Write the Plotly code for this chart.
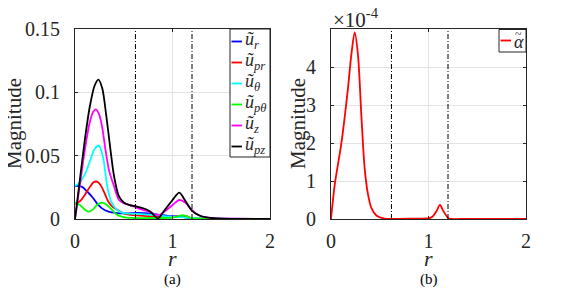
import plotly.graph_objects as go

# ---------------- data ----------------
# (a) left panel
r_ur = [0, 0.04, 0.08, 0.12, 0.175, 0.23, 0.277, 0.345, 0.4, 0.46, 0.55, 0.65, 0.75, 0.85, 0.95, 1.05, 1.15, 1.22, 1.4, 2.0]
v_ur = [0.026, 0.0262, 0.025, 0.022, 0.0176, 0.012, 0.0084, 0.0058, 0.005, 0.0045, 0.0045, 0.0048, 0.0045, 0.0035, 0.0025, 0.002, 0.001, 0.0003, 0.0002, 0]

r_upr = [0, 0.05, 0.1, 0.15, 0.19, 0.225, 0.26, 0.3, 0.34, 0.38, 0.43, 0.5, 0.6, 0.7, 0.8, 0.9, 1.0, 1.05, 1.1, 1.15, 1.2, 1.3, 2.0]
v_upr = [0.012, 0.014, 0.019, 0.025, 0.029, 0.0295, 0.027, 0.021, 0.014, 0.01, 0.0075, 0.0045, 0.003, 0.0025, 0.002, 0.0015, 0.0015, 0.002, 0.0025, 0.002, 0.0005, 0.0002, 0]

r_uth = [0, 0.05, 0.1, 0.15, 0.2, 0.245, 0.29, 0.33, 0.37, 0.42, 0.48, 0.55, 0.65, 0.75, 0.85, 0.95, 1.05, 1.1, 1.2, 1.3, 1.5, 2.0]
v_uth = [0.026, 0.029, 0.035, 0.045, 0.055, 0.058, 0.048, 0.026, 0.014, 0.008, 0.005, 0.0042, 0.004, 0.0035, 0.003, 0.002, 0.0015, 0.0015, 0.0008, 0.0003, 0.0001, 0]

r_upth = [0, 0.05, 0.1, 0.14, 0.18, 0.23, 0.277, 0.32, 0.37, 0.42, 0.47, 0.53, 0.6, 0.8, 1.0, 1.05, 1.1, 1.15, 1.2, 1.3, 2.0]
v_upth = [0.0129, 0.011, 0.0075, 0.0058, 0.0072, 0.0115, 0.0129, 0.0115, 0.008, 0.004, 0.002, 0.001, 0.0008, 0.0008, 0.001, 0.002, 0.003, 0.002, 0.0005, 0.0002, 0]

r_uz = [0, 0.05, 0.1, 0.15, 0.19, 0.215, 0.25, 0.28, 0.31, 0.35, 0.4, 0.45, 0.5, 0.56, 0.63, 0.7, 0.77, 0.85, 0.92, 1.0, 1.07, 1.13, 1.2, 1.27, 1.35, 1.45, 1.6, 2.0]
v_uz = [0, 0.027, 0.054, 0.076, 0.085, 0.0865, 0.082, 0.072, 0.056, 0.038, 0.026, 0.015, 0.0125, 0.011, 0.009, 0.007, 0.0055, 0.003, 0.006, 0.011, 0.015, 0.013, 0.007, 0.003, 0.0012, 0.0005, 0.0002, 0]

r_upz = [0, 0.05, 0.1, 0.15, 0.2, 0.24, 0.28, 0.32, 0.36, 0.4, 0.45, 0.5, 0.56, 0.63, 0.7, 0.77, 0.85, 0.92, 1.0, 1.07, 1.13, 1.2, 1.27, 1.35, 1.45, 1.6, 2.0]
v_upz = [0, 0.031, 0.062, 0.088, 0.105, 0.110, 0.103, 0.082, 0.057, 0.034, 0.018, 0.013, 0.011, 0.0099, 0.0085, 0.006, 0.0005, 0.007, 0.015, 0.0208, 0.0145, 0.0065, 0.003, 0.0012, 0.0004, 0.0001, 0]

# (b) right panel
r_alpha = [0, 0.038, 0.106, 0.174, 0.208, 0.243, 0.277, 0.311, 0.345, 0.38, 0.414, 0.465, 0.55, 0.7, 0.9, 1.0, 1.04, 1.08, 1.118, 1.15, 1.19, 1.21, 1.4, 2.0]
v_alpha_e4 = [0, 0.9, 1.99, 3.44, 4.31, 4.91, 4.31, 2.74, 1.34, 0.64, 0.29, 0.09, 0.01, 0.005, 0.01, 0.02, 0.06, 0.2, 0.37, 0.22, 0.06, 0.01, 0.005, 0]

# region boundaries (dash-dot lines)
r_bounds = [0.62, 1.2]

left_xticks = [0, 1, 2]
left_yticks = [0, 0.05, 0.1, 0.15]
left_yticktext = ["0", "0.05", "0.1", "0.15"]
right_yticks_e4 = [0, 1, 2, 3, 4]

left_series = [
    ("<i>ũ</i><sub><i>r</i></sub>", r_ur, v_ur, "#0000ff"),
    ("<i>ũ</i><sub><i>pr</i></sub>", r_upr, v_upr, "#ff0000"),
    ("<i>ũ</i><sub><i>θ</i></sub>", r_uth, v_uth, "#00ffff"),
    ("<i>ũ</i><sub><i>pθ</i></sub>", r_upth, v_upth, "#00ff00"),
    ("<i>ũ</i><sub><i>z</i></sub>", r_uz, v_uz, "#ff00ff"),
    ("<i>ũ</i><sub><i>pz</i></sub>", r_upz, v_upz, "#000000"),
]

# the page body has an 8px margin: the figure is offset by it inside the window
OFF = 8
W, H = 581 - OFF, 288 - OFF
FONT = "Liberation Serif"
AX = "#262626"

def px(x):
    return (x - OFF) / W

def py(y):
    return 1 - (y - OFF) / H

fig = go.Figure()

for name, rr, vv, col in left_series:
    fig.add_trace(go.Scatter(x=rr, y=vv, mode="lines", name=name,
                             line=dict(color=col, width=1.8, shape="spline", smoothing=0.8),
                             xaxis="x", yaxis="y", showlegend=False))

v_alpha = [v * 1e-4 for v in v_alpha_e4]
fig.add_trace(go.Scatter(x=r_alpha, y=v_alpha, mode="lines",
                         line=dict(color="#ff0000", width=1.8, shape="spline", smoothing=0.8),
                         xaxis="x2", yaxis="y2", showlegend=False))

for rb in r_bounds:
    fig.add_trace(go.Scatter(x=[rb, rb], y=[0, 0.15], mode="lines",
                             line=dict(color="black", width=1, dash="5px,2px,1px,2px"),
                             xaxis="x", yaxis="y", showlegend=False))
    fig.add_trace(go.Scatter(x=[rb, rb], y=[0, 5e-4], mode="lines",
                             line=dict(color="black", width=1, dash="5px,2px,1px,2px"),
                             xaxis="x2", yaxis="y2", showlegend=False))

ydom = [py(219), py(29)]
common = dict(showline=True, linecolor=AX, linewidth=1, mirror="ticks", ticks="inside",
              ticklen=3, tickcolor=AX, showgrid=True, gridcolor="#e3e3e3", gridwidth=1,
              zeroline=False, automargin=False,
              tickfont=dict(family=FONT, size=20, color=AX))

fig.update_layout(
    template="none",
    width=W, height=H, margin=dict(l=0, r=0, t=0, b=0, pad=0),
    paper_bgcolor="white", plot_bgcolor="white",
    xaxis=dict(domain=[px(75), px(270)], range=[0, 2], tickvals=left_xticks,
               anchor="y", ticklabelstandoff=4, **common),
    yaxis=dict(domain=ydom, range=[0, 0.15], tickvals=left_yticks, ticktext=left_yticktext,
               anchor="x", ticklabelstandoff=10, **common),
    xaxis2=dict(domain=[px(331), px(526)], range=[0, 2], tickvals=left_xticks,
                anchor="y2", ticklabelstandoff=4, **common),
    yaxis2=dict(domain=ydom, range=[0, 5e-4], tickvals=[v * 1e-4 for v in right_yticks_e4],
                ticktext=[str(v) for v in right_yticks_e4],
                anchor="x2", ticklabelstandoff=10, **common),
)

# left legend (box first, then its entries on top)
fig.add_shape(type="rect", xref="paper", yref="paper", x0=px(230), x1=px(270),
              y0=py(157), y1=py(29), line=dict(color=AX, width=1), fillcolor="white",
              layer="above")
for i, (name, rr, vv, col) in enumerate(left_series):
    yc = 41.5 + 21 * i
    fig.add_shape(type="line", xref="paper", yref="paper", x0=px(231.5), x1=px(242),
                  y0=py(yc), y1=py(yc), line=dict(color=col, width=1.8), layer="above")
    fig.add_annotation(xref="paper", yref="paper", x=px(242.5), y=py(yc - 1),
                       text=name, showarrow=False, xanchor="left", yanchor="middle",
                       font=dict(family=FONT, size=18, color=AX))

# right legend
fig.add_shape(type="rect", xref="paper", yref="paper", x0=px(499), x1=px(526),
              y0=py(52), y1=py(29.5), line=dict(color=AX, width=1), fillcolor="white",
              layer="above")
fig.add_shape(type="line", xref="paper", yref="paper", x0=px(500.5), x1=px(511),
              y0=py(40.5), y1=py(40.5), line=dict(color="#ff0000", width=1.8), layer="above")
fig.add_annotation(xref="paper", yref="paper", x=px(512), y=py(41.5),
                   text="<i>α</i>", showarrow=False, xanchor="left", yanchor="middle",
                   font=dict(family=FONT, size=18, color=AX))
fig.add_annotation(xref="paper", yref="paper", x=px(513), y=py(33.5),
                   text="~", showarrow=False, xanchor="left", yanchor="middle",
                   font=dict(family=FONT, size=12, color=AX))

# axis labels
for xc in (14, 298):
    fig.add_annotation(xref="paper", yref="paper", x=px(xc), y=py(124),
                       text="Magnitude", textangle=-90, showarrow=False,
                       xanchor="center", yanchor="middle",
                       font=dict(family=FONT, size=21, color=AX))
for xc in (172, 428):
    fig.add_annotation(xref="paper", yref="paper", x=px(xc), y=py(258),
                       text="<i>r</i>", showarrow=False, xanchor="center", yanchor="middle",
                       font=dict(family=FONT, size=22, color=AX))
for xc, lab in ((172, "(a)"), (429, "(b)")):
    fig.add_annotation(xref="paper", yref="paper", x=px(xc), y=py(279),
                       text=lab, showarrow=False, xanchor="center", yanchor="middle",
                       font=dict(family=FONT, size=15, color="black"))

# exponent label
fig.add_annotation(xref="paper", yref="paper", x=px(331), y=py(3),
                   text="×10<sup>-4</sup>", showarrow=False, xanchor="left", yanchor="top",
                   font=dict(family=FONT, size=21, color=AX))

fig.write_html("out.html")
